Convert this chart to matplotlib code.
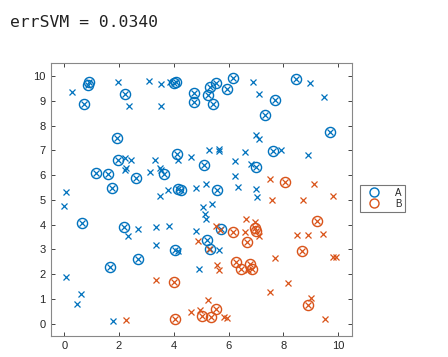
import matplotlib
matplotlib.use("Agg")
import matplotlib.pyplot as plt
from matplotlib.lines import Line2D

# Class A (blue) points: x, y, support-vector flag
a_x = [0.28, 0.71, 0.88, 0.92, 1.98, 2.20, 2.38, 3.08, 3.54, 3.54, 3.85, 4.00, 4.07, 4.74, 4.74,
       1.92, 1.95, 2.20, 2.42, 2.25, 2.22, 1.17, 1.59, 1.76, 2.63, 3.14, 3.30, 3.50, 3.54, 3.66,
       4.11, 4.14, 4.62, 3.50, 3.80, 4.17, 4.26, 4.83, 0.07, 0.00,
       5.32, 5.25, 5.53, 5.45, 5.93, 6.15, 6.89, 7.11, 7.68, 7.35, 8.45, 8.98, 9.50, 9.71,
       7.01, 7.10, 7.64, 7.92, 8.90, 5.28, 5.67, 5.67, 6.62, 5.12, 6.22, 6.83, 7.01, 6.22,
       6.36, 5.57, 5.18, 5.08, 5.39, 7.01, 7.05,
       0.64, 0.05, 0.61, 0.46, 1.68, 1.78, 2.17, 2.31, 2.68, 2.68, 3.35, 3.35, 3.83, 4.03,
       4.17, 4.81, 4.91, 5.14, 5.18, 5.74, 5.20, 5.33, 5.65]
a_y = [9.34, 8.89, 9.65, 9.75, 9.76, 9.28, 8.78, 9.81, 9.68, 8.78, 9.75, 9.72, 9.74, 9.31, 8.97,
       7.51, 6.62, 6.68, 6.62, 6.30, 6.22, 6.08, 6.05, 5.46, 5.88, 6.12, 6.62, 6.30, 6.22, 6.05,
       6.86, 6.60, 6.73, 5.14, 5.39, 5.45, 5.39, 5.47, 5.30, 4.73,
       9.57, 9.25, 9.73, 8.88, 9.47, 9.92, 9.77, 9.26, 9.03, 8.42, 9.90, 9.73, 9.14, 7.74,
       7.61, 7.47, 6.97, 7.03, 6.80, 7.03, 7.07, 6.97, 6.93, 6.39, 6.57, 6.43, 6.32, 5.95,
       5.51, 5.41, 5.65, 4.70, 4.83, 5.45, 5.11,
       4.08, 1.89, 1.19, 0.81, 2.30, 0.11, 3.92, 3.54, 3.81, 2.62, 3.89, 3.19, 3.93, 2.97,
       2.95, 3.72, 2.20, 4.42, 4.23, 3.81, 3.36, 3.00, 2.98]
a_sv = [0, 1, 1, 1, 0, 1, 0, 0, 0, 0, 0, 1, 1, 1, 1,
        1, 1, 0, 0, 0, 0, 1, 1, 1, 1, 0, 0, 0, 0, 1,
        1, 0, 0, 0, 0, 1, 1, 0, 0, 0,
        1, 1, 1, 1, 1, 1, 0, 0, 1, 1, 1, 0, 0, 1,
        0, 0, 1, 0, 0, 0, 0, 0, 0, 1, 0, 0, 1, 0,
        0, 1, 0, 0, 0, 0, 0,
        1, 0, 0, 0, 1, 0, 1, 0, 0, 1, 0, 0, 0, 1,
        0, 0, 0, 0, 0, 1, 1, 1, 0]

# Class B (orange) points
b_x = [7.50, 8.08, 9.14, 7.58, 8.71, 9.81, 4.87, 3.35, 3.99, 2.26, 4.05, 4.62, 4.94,
       5.56, 5.70, 6.17, 6.63, 6.98, 6.62, 6.96, 7.00, 7.10, 6.66, 5.30,
       9.23, 8.49, 8.92, 9.45, 8.70, 7.69, 9.82, 9.94, 6.29, 6.45, 6.80, 6.84, 6.72,
       5.57, 5.66, 7.51, 8.18, 9.01, 8.92, 9.53, 5.24, 5.55, 5.03, 5.36, 5.85, 5.94]
b_y = [5.85, 5.72, 5.65, 5.00, 5.00, 5.14, 3.35, 1.76, 1.69, 0.16, 0.20, 0.45, 0.55,
       3.96, 3.80, 3.68, 4.24, 4.10, 3.70, 3.86, 3.75, 3.55, 3.30, 3.02,
       4.16, 3.59, 3.58, 3.62, 2.95, 2.65, 2.70, 2.70, 2.49, 2.22, 2.40, 2.22, 2.16,
       2.38, 2.18, 1.26, 1.62, 1.03, 0.74, 0.20, 0.96, 0.58, 0.31, 0.27, 0.27, 0.22]
b_sv = [0, 1, 0, 0, 0, 0, 0, 0, 1, 0, 1, 0, 0,
        0, 0, 1, 0, 0, 0, 1, 1, 0, 1, 0,
        1, 0, 0, 0, 1, 0, 0, 0, 1, 1, 1, 1, 0,
        0, 0, 0, 0, 0, 1, 0, 0, 1, 1, 1, 0, 0]

class_names = ["A", "B"]
x_ticks = [0, 2, 4, 6, 8, 10]
y_ticks = list(range(0, 11))
title_text = "errSVM = 0.0340"

BLUE = "#0072BD"
ORANGE = "#D95319"
AX = "#262626"

fig = plt.figure(figsize=(4.48, 3.57), dpi=100)
ax = fig.add_axes([0.113, 0.059, 0.672, 0.764])

for xs, ys, sv, col in [(a_x, a_y, a_sv, BLUE), (b_x, b_y, b_sv, ORANGE)]:
    ax.plot(xs, ys, ls="none", marker="x", ms=5, mew=0.9, color=col, zorder=3)
    sx = [x for x, s in zip(xs, sv) if s]
    sy = [y for y, s in zip(ys, sv) if s]
    ax.plot(sx, sy, ls="none", marker="o", ms=7.3, mfc="none", mew=1.0, color=col, zorder=3)

ax.set_xlim(-0.5, 10.5)
ax.set_ylim(-0.5, 10.52)
ax.set_xticks(x_ticks)
ax.set_yticks(y_ticks)
ax.tick_params(direction="in", top=True, right=True, length=3, width=0.6,
               colors=AX, labelsize=8, labelcolor=AX)
for lab in ax.get_xticklabels() + ax.get_yticklabels():
    lab.set_family("Liberation Sans")
for sp in ax.spines.values():
    sp.set_color("#888888")
    sp.set_linewidth(0.8)

handles = [Line2D([], [], ls="none", marker="o", ms=6.5, mfc="none", mew=1.0, color=BLUE),
           Line2D([], [], ls="none", marker="o", ms=6.5, mfc="none", mew=1.0, color=ORANGE)]
leg = fig.legend(handles, class_names, loc="upper left", bbox_to_anchor=(0.804, 0.482),
                 borderaxespad=0, frameon=True, fancybox=False, handlelength=2.2,
                 handletextpad=1.1, borderpad=0.3, labelspacing=0.1,
                 prop={"family": "Liberation Sans", "size": 7})
leg.get_frame().set_edgecolor("#555555")
leg.get_frame().set_linewidth(0.8)
for t in leg.get_texts():
    t.set_color(AX)

fig.text(10 / 448, 1 - 27.3 / 357, title_text, family="DejaVu Sans Mono", fontsize=11.8,
         color="#222222", va="baseline", ha="left")

fig.savefig("out.png", dpi=100)
